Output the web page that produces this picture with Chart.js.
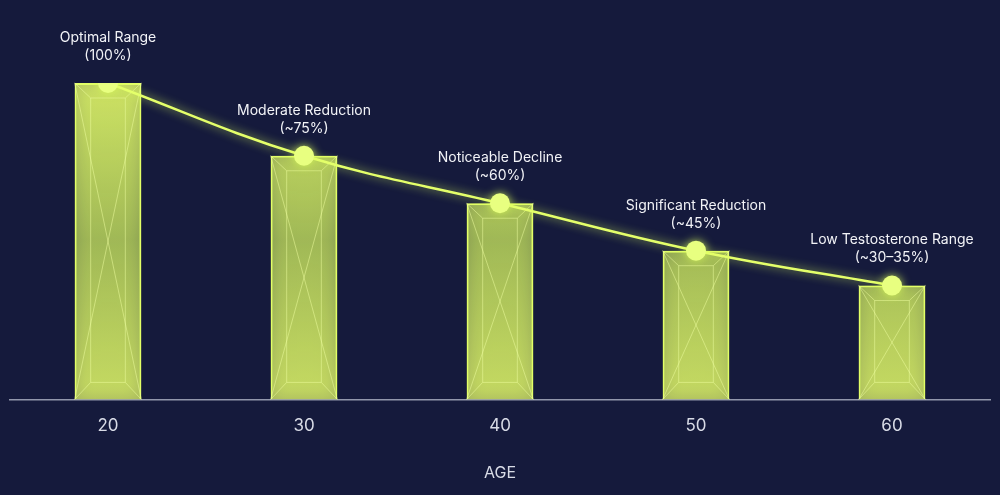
<!DOCTYPE html>
<html>
<head>
<meta charset="utf-8">
<script src="https://cdn.jsdelivr.net/npm/chart.js@4"></script>
<style>
  html, body { margin: 0; padding: 0; background: #151a3c; }
  #wrap { width: 1000px; height: 495px; }
</style>
</head>
<body>
<div id="wrap"><canvas id="chart"></canvas></div>
<script>
const ages = ['20', '30', '40', '50', '60'];
const levels = [100, 77, 62, 47, 36];
const stageNames = ['Optimal Range', 'Moderate Reduction', 'Noticeable Decline', 'Significant Reduction', 'Low Testosterone Range'];
const stageValues = ['(100%)', '(~75%)', '(~60%)', '(~45%)', '(~30–35%)'];

const lime = '#e4ff6a';

// glow + inner bevel lines on the bars, labels above points
const decor = {
    id: 'decor',
    beforeDatasetDraw(chart, args) {
        chart.ctx.save();
        chart.ctx.shadowColor = 'rgba(220,255,90,0.85)';
        chart.ctx.shadowBlur = args.index === 0 ? 16 : 10;
    },
    afterDatasetDraw(chart, args) {
        const ctx = chart.ctx;
        ctx.restore();
        if (args.index !== 0) return;
        ctx.save();
        ctx.strokeStyle = 'rgba(240,255,160,0.5)';
        ctx.lineWidth = 1;
        args.meta.data.forEach(bar => {
            const l = bar.x - bar.width / 2, r = bar.x + bar.width / 2;
            const t = bar.y, b = bar.base;
            const il = l + 16, ir = r - 16, it = t + 15, ib = b - 17;
            ctx.beginPath();
            ctx.rect(il, it, ir - il, ib - it);
            ctx.moveTo(l, t); ctx.lineTo(il, it);
            ctx.moveTo(r, t); ctx.lineTo(ir, it);
            ctx.moveTo(l, b); ctx.lineTo(il, ib);
            ctx.moveTo(r, b); ctx.lineTo(ir, ib);
            ctx.moveTo(l, t); ctx.lineTo(r, b);
            ctx.moveTo(r, t); ctx.lineTo(l, b);
            ctx.stroke();
        });
        ctx.restore();
    },
    afterDraw(chart) {
        const ctx = chart.ctx;
        const pts = chart.getDatasetMeta(1).data;
        ctx.save();
        ctx.fillStyle = '#f2f3f7';
        ctx.font = '14px Inter, "Noto Sans", sans-serif';
        ctx.textAlign = 'center';
        pts.forEach((p, i) => {
            ctx.fillText(stageNames[i], p.x, p.y - 41);
            ctx.fillText(stageValues[i], p.x, p.y - 23);
        });
        ctx.restore();
    }
};

const ctx = document.getElementById('chart').getContext('2d');
const grad = ctx.createLinearGradient(0, 80, 0, 400);
grad.addColorStop(0, 'rgba(235,255,110,0.7)');
grad.addColorStop(0.5, 'rgba(215,245,100,0.5)');
grad.addColorStop(1, 'rgba(235,255,110,0.65)');

new Chart(ctx, {
    type: 'bar',
    data: {
        labels: ages,
        datasets: [{
            type: 'bar',
            data: levels,
            backgroundColor: grad,
            borderColor: lime,
            borderWidth: 2,
            categoryPercentage: 1,
            barPercentage: 0.34,
            order: 2
        }, {
            type: 'line',
            data: levels,
            borderColor: lime,
            borderWidth: 2.5,
            tension: 0.4,
            pointRadius: 10,
            pointBackgroundColor: '#e8ff80',
            pointBorderWidth: 0,
            order: 1
        }]
    },
    options: {
        responsive: true,
        maintainAspectRatio: false,
        animation: false,
        layout: { padding: { top: 83, left: -19, right: -19, bottom: 8 } },
        plugins: { legend: { display: false }, tooltip: { enabled: false } },
        scales: {
            x: {
                grid: { display: false, drawTicks: true },
                border: { color: 'rgba(200,205,220,0.7)', width: 1.5 },
                ticks: { color: '#d8dbe6', font: { size: 17, family: 'Inter, "Noto Sans", sans-serif' }, padding: 8 },
                title: { display: true, text: 'AGE', color: '#d8dbe6', font: { size: 16, family: 'Inter, "Noto Sans", sans-serif' }, padding: { top: 20 } }
            },
            y: {
                display: false,
                min: 0,
                max: 100
            }
        }
    },
    plugins: [decor]
});
</script>
</body>
</html>
